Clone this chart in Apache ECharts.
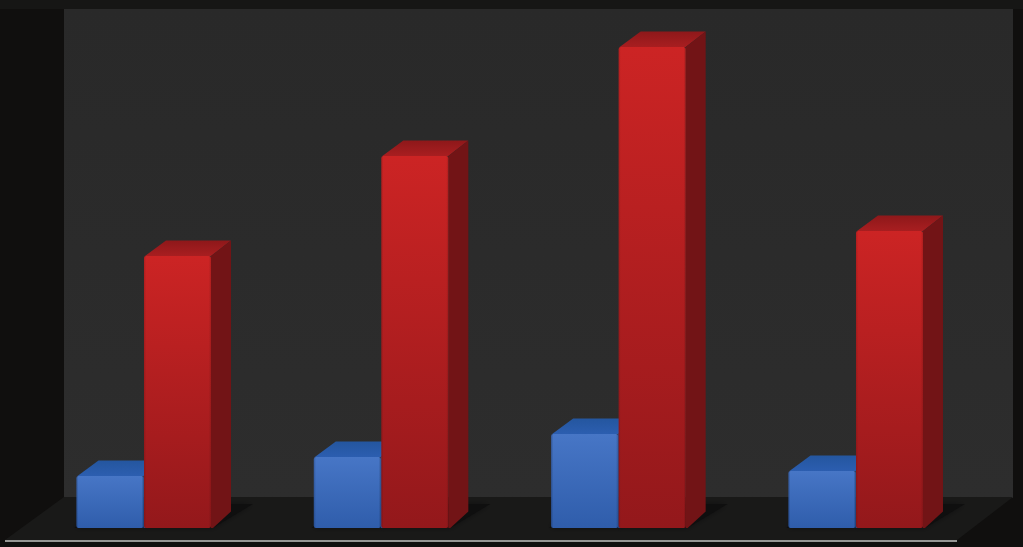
<!DOCTYPE html>
<html><head><meta charset="utf-8">
<style>html,body{margin:0;padding:0;background:#111}#c{width:1023px;height:547px}</style>
<script src="https://cdn.jsdelivr.net/npm/echarts@6/dist/echarts.min.js"></script>
</head><body><div id="c"></div>
<script>
const categories = ['1', '2', '3', '4'];
const blueValues = [0.52, 0.71, 0.94, 0.57];
const redValues = [2.72, 3.72, 4.81, 2.97];

const chart = echarts.init(document.getElementById('c'), null, {renderer: 'canvas'});
const BAR_FRAC = 67 / 237.33;
const DX = 20, DY = 15.5;
const grad = (a, b) => new echarts.graphic.LinearGradient(0, 0, 0, 1, [{offset: 0, color: a}, {offset: 1, color: b}]);
const hgrad = stops => new echarts.graphic.LinearGradient(0, 0, 1, 0, stops);

function bar3d(sign, pal, zb) {
  return function (params, api) {
    const cat = api.value(0), val = api.value(1);
    const top = api.coord([cat, val]), base = api.coord([cat, 0]);
    const w = api.size([1, 0])[0] * BAR_FRAC;
    const x0 = sign < 0 ? top[0] - w - 0.5 : top[0], x1 = x0 + w, yT = top[1], yB = base[1];
    return {type: 'group', children: [
      {type: 'polygon', z2: -1, shape: {points: [[x0 - 2, yB], [x1 + 2, yB], [x1 + DX + 22, yB - 24], [x0 + DX, yB - 24]]},
        style: {fill: '#0f0f0f', shadowBlur: 6, shadowColor: '#0f0f0f'}},
      {type: 'polygon', z2: zb, shape: {points: [[x0 + 1, yT], [x0 + DX + 2, yT - DY], [x1 + DX, yT - DY], [x1, yT]]},
        style: {fill: grad(pal.topA, pal.topB)}},
      {type: 'polygon', z2: zb, shape: {points: [[x1, yT], [x1 + DX, yT - DY], [x1 + DX, yB - DY - 1], [x1 + 2, yB], [x1, yB]]},
        style: {fill: pal.side}},
      {type: 'rect', z2: zb + 1, shape: {x: x0, y: yT, width: w, height: yB - yT, r: 2},
        style: {fill: grad(pal.a, pal.b)}},
      {type: 'rect', z2: zb + 1, shape: {x: x0, y: yT, width: w, height: yB - yT, r: 2},
        style: {fill: hgrad([{offset: 0, color: pal.edge}, {offset: 0.03, color: 'rgba(0,0,0,0)'}, {offset: 0.97, color: 'rgba(0,0,0,0)'}, {offset: 1, color: pal.edge}])}}
    ]};
  };
}
const bluePal = {a: '#4776c6', b: '#2f5dab', topA: '#24569f', topB: '#2c5eb0', side: '#234f96', edge: 'rgba(20,50,110,0.3)'};
const redPal = {a: '#cc2424', b: '#93181b', topA: '#8e181a', topB: '#a81e20', side: '#721416', edge: 'rgba(90,10,10,0.2)'};

chart.setOption({
  animation: false,
  backgroundColor: '#100f0e',
  grid: {left: 25.33, width: 949.33, top: 28, height: 500},
  xAxis: {type: 'category', data: categories, show: false},
  yAxis: {type: 'value', min: 0, max: 5, show: false},
  graphic: [
    {type: 'rect', z: -10, shape: {x: 0, y: 0, width: 1023, height: 9}, style: {fill: '#161615'}},
    {type: 'rect', z: -10, shape: {x: 64, y: 9, width: 949, height: 489},
      style: {fill: new echarts.graphic.LinearGradient(0, 0, 0, 1, [{offset: 0, color: '#292929'}, {offset: 1, color: '#2d2d2d'}])}},
    {type: 'polygon', z: -9, shape: {points: [[64, 497], [1013, 497], [957, 540], [5, 540]]}, style: {fill: '#191918'}},
    {type: 'line', z: -8, shape: {x1: 5, y1: 541, x2: 957, y2: 541}, style: {stroke: '#969694', lineWidth: 2}}
  ],
  series: [
    {name: 'Blue', type: 'custom', coordinateSystem: 'cartesian2d', encode: {x: 0, y: 1},
      data: blueValues.map((v, i) => [i, v]), renderItem: bar3d(-1, bluePal, 1), clip: false},
    {name: 'Red', type: 'custom', coordinateSystem: 'cartesian2d', encode: {x: 0, y: 1},
      data: redValues.map((v, i) => [i, v]), renderItem: bar3d(1, redPal, 3), clip: false}
  ]
});
</script></body></html>
